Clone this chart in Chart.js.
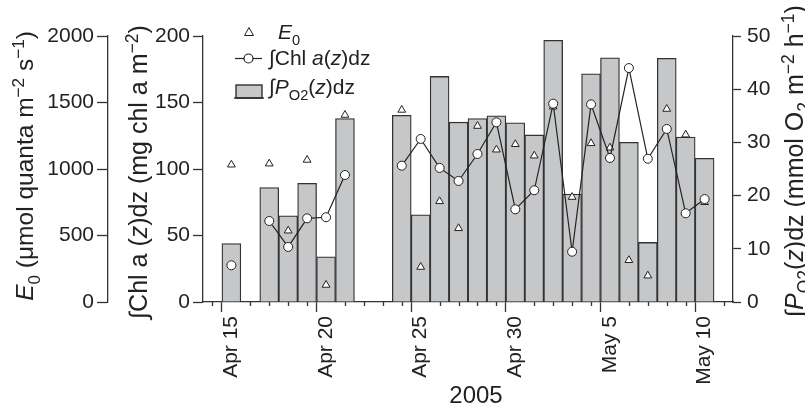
<!DOCTYPE html>
<html>
<head>
<meta charset="utf-8">
<script src="https://cdn.jsdelivr.net/npm/chart.js@4.4.0/dist/chart.umd.min.js"></script>
<style>
  html, body { margin: 0; padding: 0; background: #fff; }
  #wrap { width: 805px; height: 410px; position: relative; }
</style>
</head>
<body>
<div id="wrap"><canvas id="chart" width="805" height="410"></canvas></div>
<script>
// observation days, Apr 15 .. May 10 2005
const dates = ['Apr 15','Apr 16','Apr 17','Apr 18','Apr 19','Apr 20','Apr 21','Apr 22','Apr 23',
  'Apr 24','Apr 25','Apr 26','Apr 27','Apr 28','Apr 29','Apr 30',
  'May 1','May 2','May 3','May 4','May 5','May 6','May 7','May 8','May 9','May 10'];

// integrated O2 production (mmol O2 m-2 h-1), right axis
const prodO2 = [11.0, null, 21.5, 16.2, 22.3, 8.5, 34.5, null, null,
  35.1, 16.4, 42.4, 33.8, 34.5, 35.0, 33.7,
  31.4, 49.2, 20.3, 42.9, 45.9, 30.0, 11.2, 45.8, 31.0, 27.0];

// integrated Chl a (mg chl a m-2)
const chlA = [27.6, null, 60.9, 41.4, 62.9, 63.7, 95.5, null, null,
  102.5, 122.6, 100.8, 91.0, 111.3, 135.1, 69.7,
  84.0, 149.1, 37.8, 148.6, 108.3, 175.9, 107.7, 130.1, 66.7, 77.4];

// surface irradiance E0 (umol quanta m-2 s-1)
const e0 = [1032, null, 1040, 536, 1068, 128, 1406, null, null,
  1444, 263, 757, 554, 1323, 1145, 1186,
  1100, 1468, 789, 1193, 1160, 314, 198, 1451, 1258, 750];

const tickLabels = ['Apr 15', 'Apr 20', 'Apr 25', 'Apr 30', 'May 5', 'May 10'];

const FONT = '"Liberation Sans", Arial, Helvetica, sans-serif';
const INK = '#222';
const AXIS = '#333';
const BAR_FILL = '#c6c7c9';

// day number counted from Apr 1 (May 1 = 31)
function dayNum(label) {
  const [m, d] = label.split(' ');
  return (m === 'May' ? 30 : 0) + parseInt(d, 10);
}
function toPoints(values) {
  return dates.map((d, i) => ({ x: dayNum(d), y: values[i] }));
}
const labeledDays = tickLabels.map(dayNum);

// draw a run of text pieces (italic / sub / sup) on the canvas
function richWidth(ctx, parts, size) {
  let w = 0;
  parts.forEach(p => {
    const s = (p.sub || p.sup) ? size * 0.7 : size;
    ctx.font = (p.it ? 'italic ' : '') + s + 'px ' + FONT;
    w += ctx.measureText(p.t).width;
  });
  return w;
}
function drawRich(ctx, parts, x, y, size) {
  let cx = x;
  parts.forEach(p => {
    const s = (p.sub || p.sup) ? size * 0.7 : size;
    ctx.font = (p.it ? 'italic ' : '') + s + 'px ' + FONT;
    let dy = 0;
    if (p.sub) dy = size * 0.28;
    if (p.sup) dy = -size * 0.38;
    ctx.fillText(p.t, cx, y + dy);
    cx += ctx.measureText(p.t).width;
  });
}
function drawRotated(ctx, parts, x, y, size) {
  ctx.save();
  ctx.translate(x, y);
  ctx.rotate(-Math.PI / 2);
  const w = richWidth(ctx, parts, size);
  drawRich(ctx, parts, -w / 2, 0, size);
  ctx.restore();
}

const titleE0 = [{t: 'E', it: true}, {t: '0', sub: true}, {t: ' (μmol quanta m'}, {t: '−2', sup: true},
  {t: ' s'}, {t: '−1', sup: true}, {t: ')'}];
const titleChl = [{t: '∫Chl a ('}, {t: 'z', it: true}, {t: ')dz (mg chl a m'}, {t: '−2', sup: true}, {t: ')'}];
const titleO2 = [{t: '∫'}, {t: 'P', it: true}, {t: 'O2', sub: true}, {t: '('}, {t: 'z', it: true},
  {t: ')dz (mmol O'}, {t: '2', sub: true}, {t: ' m'}, {t: '−2', sup: true}, {t: ' h'}, {t: '−1', sup: true}, {t: ')'}];

const decorations = {
  id: 'decorations',
  afterDraw(chart) {
    const ctx = chart.ctx;
    const xs = chart.scales.x;
    ctx.save();
    // minor day ticks
    ctx.strokeStyle = AXIS;
    ctx.lineWidth = 1.3;
    for (let d = Math.ceil(xs.min); d <= xs.max; d++) {
      if (labeledDays.includes(d)) continue;
      const px = Math.round(xs.getPixelForValue(d)) + 0.5;
      ctx.beginPath();
      ctx.moveTo(px, xs.top);
      ctx.lineTo(px, xs.top + 4);
      ctx.stroke();
    }

    ctx.fillStyle = INK;
    ctx.textBaseline = 'alphabetic';
    // axis titles
    drawRotated(ctx, titleE0, 33, 166, 24.5);
    drawRotated(ctx, titleChl, 147, 172, 25);
    drawRotated(ctx, titleO2, 803, 161, 25);

    // x title
    ctx.font = '24px ' + FONT;
    ctx.textAlign = 'center';
    ctx.fillText('2005', 476, 403);
    ctx.textAlign = 'left';

    // legend
    ctx.lineWidth = 1;
    ctx.strokeStyle = INK;
    ctx.fillStyle = '#fff';
    ctx.beginPath();
    ctx.moveTo(249, 27.5);
    ctx.lineTo(253.5, 35.5);
    ctx.lineTo(244.5, 35.5);
    ctx.closePath();
    ctx.fill();
    ctx.stroke();

    ctx.lineWidth = 1.2;
    ctx.beginPath();
    ctx.moveTo(235, 58.5);
    ctx.lineTo(262, 58.5);
    ctx.stroke();
    ctx.beginPath();
    ctx.arc(248.5, 58.5, 4.5, 0, Math.PI * 2);
    ctx.fill();
    ctx.stroke();

    ctx.fillStyle = BAR_FILL;
    ctx.fillRect(236, 85, 26, 13);
    ctx.lineWidth = 1.3;
    ctx.strokeRect(236, 85, 26, 13);
    ctx.beginPath();
    ctx.moveTo(234, 98);
    ctx.lineTo(264, 98);
    ctx.stroke();

    ctx.fillStyle = INK;
    drawRich(ctx, [{t: 'E', it: true}, {t: '0', sub: true}], 278, 39, 21);
    drawRich(ctx, [{t: '∫Chl '}, {t: 'a', it: true}, {t: '('}, {t: 'z', it: true}, {t: ')dz'}], 269, 65, 21);
    drawRich(ctx, [{t: '∫'}, {t: 'P', it: true}, {t: 'O2', sub: true}, {t: '('}, {t: 'z', it: true}, {t: ')dz'}], 269, 94, 21);
    ctx.restore();
  }
};

const tickFont = { family: FONT, size: 21 };
const plainNum = v => String(v);

new Chart(document.getElementById('chart'), {
  type: 'bar',
  data: {
    datasets: [
      {
        type: 'line',
        label: 'Chl',
        data: toPoints(chlA),
        yAxisID: 'yC',
        borderColor: INK,
        borderWidth: 1.2,
        pointRadius: 4.5,
        pointBackgroundColor: '#fff',
        pointBorderColor: INK,
        pointBorderWidth: 1,
        spanGaps: false,
        order: 1
      },
      {
        type: 'line',
        label: 'E0',
        data: toPoints(e0),
        yAxisID: 'yE',
        showLine: false,
        pointStyle: 'triangle',
        pointRadius: 4.5,
        pointBackgroundColor: '#fff',
        pointBorderColor: INK,
        pointBorderWidth: 1,
        order: 2
      },
      {
        type: 'bar',
        label: 'PO2',
        data: toPoints(prodO2),
        yAxisID: 'yP',
        backgroundColor: BAR_FILL,
        borderColor: AXIS,
        borderWidth: 1.3,
        barPercentage: 1,
        categoryPercentage: 1,
        grouped: false,
        order: 3
      }
    ]
  },
  options: {
    responsive: false,
    animation: false,
    events: [],
    layout: { padding: { top: 36, left: 0, right: 0, bottom: 0 } },
    plugins: { legend: { display: false }, tooltip: { enabled: false } },
    scales: {
      x: {
        type: 'linear',
        min: 14,
        max: 41,
        afterBuildTicks: s => { s.ticks = s.ticks.filter(t => Number.isInteger(t.value)); },
        afterFit: s => { s.height = 108; },
        ticks: {
          stepSize: 1,
          autoSkip: false,
          maxRotation: 90,
          minRotation: 90,
          padding: 4,
          color: INK,
          font: tickFont,
          callback: v => {
            const i = labeledDays.indexOf(v);
            return i >= 0 ? tickLabels[i] : '';
          }
        },
        grid: {
          drawOnChartArea: false,
          drawTicks: true,
          tickLength: 10,
          tickWidth: 1.3,
          tickColor: c => (c.tick && labeledDays.includes(c.tick.value)) ? AXIS : 'rgba(0,0,0,0)'
        },
        border: { display: true, color: AXIS, width: 1.3 }
      },
      yE: {
        type: 'linear',
        position: 'left',
        weight: 2,
        min: 0,
        max: 2000,
        afterFit: s => { s.width = 108; },
        ticks: { stepSize: 500, color: INK, font: tickFont, padding: 3, callback: plainNum },
        grid: { drawOnChartArea: false, tickLength: 11, tickWidth: 1.3, tickColor: AXIS },
        border: { display: true, color: AXIS, width: 1.3 }
      },
      yC: {
        type: 'linear',
        position: 'left',
        weight: 1,
        min: 0,
        max: 200,
        afterFit: s => { s.width = 95; },
        ticks: { stepSize: 50, color: INK, font: tickFont, padding: 3, callback: plainNum },
        grid: { drawOnChartArea: false, tickLength: 10, tickWidth: 1.3, tickColor: AXIS },
        border: { display: true, color: AXIS, width: 1.3 }
      },
      yP: {
        type: 'linear',
        position: 'right',
        min: 0,
        max: 50,
        afterFit: s => { s.width = 72; },
        ticks: { stepSize: 10, color: INK, font: tickFont, padding: 6, callback: plainNum },
        grid: { drawOnChartArea: false, tickLength: 8, tickWidth: 1.3, tickColor: AXIS },
        border: { display: true, color: AXIS, width: 1.3 }
      }
    }
  },
  plugins: [decorations]
});
</script>
</body>
</html>
